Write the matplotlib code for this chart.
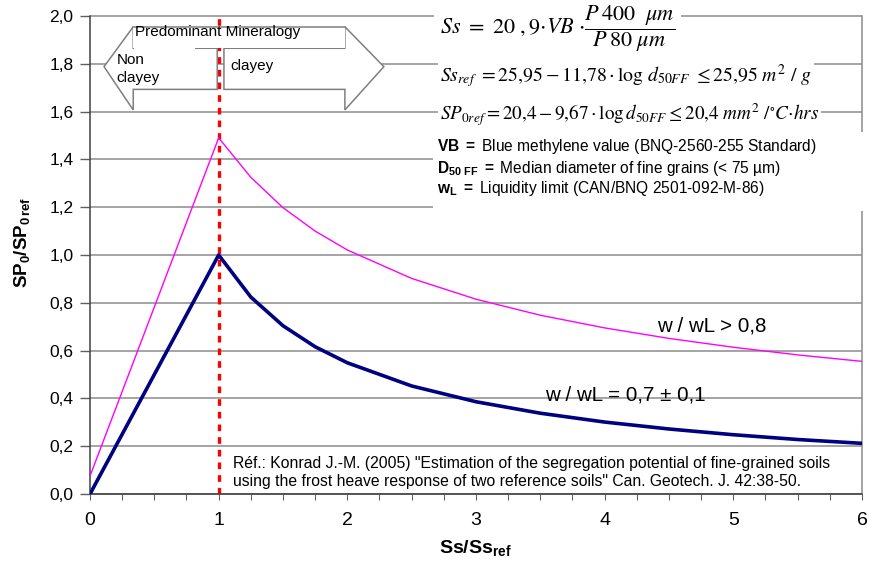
import matplotlib
matplotlib.use("Agg")
import matplotlib.pyplot as plt
from matplotlib.patches import Polygon, Rectangle
from matplotlib.ticker import MultipleLocator, FuncFormatter

plt.rcParams['font.family'] = ['Liberation Sans', 'DejaVu Sans']
plt.rcParams['mathtext.fontset'] = 'custom'
plt.rcParams['mathtext.rm'] = 'Liberation Sans'
plt.rcParams['mathtext.it'] = 'Liberation Sans:italic'
plt.rcParams['mathtext.bf'] = 'Liberation Sans:bold'

# data
ratio_x = [0, 1, 1.25, 1.5, 1.75, 2, 2.5, 3, 3.5, 4, 4.5, 5, 5.5, 6]
sp_mid = [0.0, 1.0, 0.824, 0.704, 0.616, 0.549, 0.452, 0.386, 0.338, 0.301, 0.272, 0.248, 0.228, 0.212]
sp_high = [0.075, 1.49, 1.325, 1.198, 1.10, 1.021, 0.902, 0.815, 0.748, 0.695, 0.651, 0.614, 0.582, 0.555]
y_ticks = [0.0, 0.2, 0.4, 0.6, 0.8, 1.0, 1.2, 1.4, 1.6, 1.8, 2.0]
x_ticks = [0, 1, 2, 3, 4, 5, 6]
clay_limit = 1

fig = plt.figure(figsize=(8.7, 5.73), dpi=100)
ax = fig.add_axes([90/870, 1-494/573, 772/870, 478/573])
ax.set_xlim(0, 6)
ax.set_ylim(0, 2.0)

# grid lines
ax.hlines(y_ticks, 0, 6, colors='#8c8c8c', lw=1.1, zorder=1, clip_on=False)

# curves
ax.plot(ratio_x, sp_high, color='#ff00ff', lw=1.0, zorder=3)
ax.plot(ratio_x, sp_mid, color='#000080', lw=2.6, zorder=3, solid_joinstyle='round')
ax.vlines(clay_limit, 0, 2.0, colors='#ff0000', lw=2.4, linestyles=(0, (2.0, 1.8)), zorder=2.5)

# spines / ticks
ax.spines['top'].set_visible(False)
for s in ['left', 'bottom']:
    ax.spines[s].set_color('#404040')
    ax.spines[s].set_linewidth(1.1)
ax.spines['right'].set_color('#8c8c8c')
ax.spines['right'].set_linewidth(1.1)
ax.set_yticks(y_ticks)
ax.set_xticks(x_ticks)
ax.xaxis.set_minor_locator(MultipleLocator(0.25))
ax.yaxis.set_major_formatter(FuncFormatter(lambda v, p: f'{v:.1f}'.replace('.', ',')))
ax.tick_params(axis='y', direction='out', length=7, width=1.0, color='#606060', labelsize=12.5, pad=5)
ax.tick_params(axis='x', which='both', direction='out', length=4, width=0.8, color='#606060', pad=9)
for lab in ax.get_xticklabels():
    lab.set_fontsize(14)

fig.text(22/870, 1-242/573, r'$\mathbf{SP_0/SP_{0\,ref}}$', rotation=90, fontsize=13.5,
         ha='center', va='center')
fig.text(475/870, 1-548/573, r'$\mathbf{Ss/Ss_{ref}}$', fontsize=14, ha='center', va='center')

# mineralogy arrows
edge = '#7f7f7f'
left_arrow = [(0.989, 1.865), (0.336, 1.865), (0.336, 1.955), (0.109, 1.788),
              (0.336, 1.607), (0.336, 1.693), (0.989, 1.693)]
right_arrow = [(1.041, 1.865), (1.981, 1.865), (1.981, 1.955), (2.284, 1.788),
               (1.981, 1.607), (1.981, 1.693), (1.041, 1.693)]
ax.add_patch(Polygon(left_arrow, closed=True, fc='white', ec=edge, lw=1.1, zorder=3))
ax.add_patch(Polygon(right_arrow, closed=True, fc='white', ec=edge, lw=1.1, zorder=3))
ax.add_patch(Rectangle((0.336, 1.865), 1.645, 0.09, fc='white', ec='none', zorder=4))
ax.add_patch(Rectangle((0.345, 1.80), 0.47, 0.07, fc='white', ec='none', zorder=4))
ax.plot([0.336, 1.981], [1.955, 1.955], color=edge, lw=1.1, zorder=4.5)
ax.text(0.35, 1.933, 'Predominant Mineralogy', fontsize=11, va='center', zorder=5)
ax.text(0.207, 1.78, 'Non\nclayey', fontsize=11, va='center', linespacing=1.35, zorder=5)
ax.text(1.088, 1.79, 'clayey', fontsize=11, va='center', zorder=5)

# formulas
box = dict(fc='white', ec='none', pad=1.5)
ax.text(2.72, 1.946, r'$Ss\ =\ 20\ ,9{\cdot}VB\ {\cdot}\dfrac{P\,400\ \ \mu m}{P\,80\ \mu m}$',
        math_fontfamily='stix', fontsize=16, va='center', bbox=dict(fc='white', ec='none', pad=4), zorder=5)
ax.text(2.72, 1.749, r'$Ss_{ref}\ = 25{,}95 - 11{,}78\cdot\log\,d_{50FF}\ \leq 25{,}95\ m^2\ /\ g$',
        math_fontfamily='stix', fontsize=14.2, va='center', bbox=box, zorder=5)
ax.text(2.72, 1.586, r'$SP_{0ref} = 20{,}4 - 9{,}67\cdot\log d_{50FF} \leq 20{,}4\ mm^2\ /{}^{\circ}C{\cdot}hrs$',
        math_fontfamily='stix', fontsize=13.8, va='center', bbox=box, zorder=5)

# definitions box
ax.add_patch(Rectangle((2.665, 1.184), 3.45, 0.331, fc='white', ec='none', zorder=4, clip_on=False))
ax.text(2.696, 1.452, r'$\mathbf{VB\ =}$ Blue methylene value (BNQ-2560-255 Standard)',
        fontsize=11.2, va='center', zorder=5)
ax.text(2.696, 1.364, r'$\mathbf{D_{50\ FF}\ =}$ Median diameter of fine grains (< 75 µm)',
        fontsize=11.2, va='center', zorder=5)
ax.text(2.696, 1.280, r'$\mathbf{w_L\ =}$ Liquidity limit (CAN/BNQ 2501-092-M-86)',
        fontsize=11.2, va='center', zorder=5)

# curve labels
ax.text(4.406, 0.703, 'w / wL > 0,8', fontsize=14.8, va='center', zorder=5)
ax.text(3.535, 0.414, 'w / wL = 0,7 ± 0,1', fontsize=14.8, va='center', zorder=5)

ax.text(1.111, 0.09, 'Réf.: Konrad J.-M. (2005) "Estimation of the segregation potential of fine-grained soils\n'
        'using the frost heave response of two reference soils" Can. Geotech. J. 42:38-50.',
        fontsize=11.3, va='center', linespacing=1.2, zorder=5)

fig.savefig('out.png', dpi=100)
